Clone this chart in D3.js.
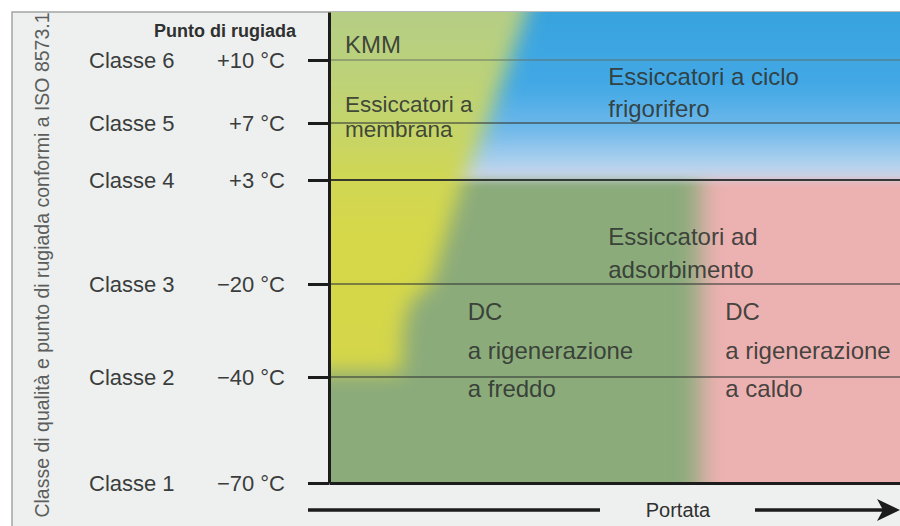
<!DOCTYPE html>
<html><head><meta charset="utf-8">
<script src="https://cdn.jsdelivr.net/npm/d3@7"></script>
<style>html,body{margin:0;padding:0;background:#fff;overflow:hidden}</style>
</head><body><svg id="c" width="900" height="526"></svg>
<script>
// ---------- data ----------
const classNames = ["Classe 1","Classe 2","Classe 3","Classe 4","Classe 5","Classe 6"];
const classLevels = [1,2,3,4,5,6];
const dewPoints = ["\u221270 \u00b0C","\u221240 \u00b0C","\u221220 \u00b0C","+3 \u00b0C","+7 \u00b0C","+10 \u00b0C"];
const yTitle = "Classe di qualità e punto di rugiada conformi a ISO 8573.1";
const dewTitle = "Punto di rugiada";
const xTitle = "Portata";
// region boundaries: [portata (% of axis), class level]
const membraneEdge = [[36,7.3],[34.7,6.76],[31.7,6],[27.7,5],[23.5,4],[21.2,3.6],[18,3],[14.2,2.8],[13,2.5],[12.8,2.05]];
const refrigeratedBottom = 4;
const hotColdEdge = 65;
const regionLabels = [
  {lines:["KMM"], px:2.8, cl:6.11, gap:0},
  {lines:["Essiccatori a","membrana"], px:2.8, cl:5.17, gap:25},
  {lines:["Essiccatori a ciclo","frigorifero"], px:48.9, cl:5.6, gap:32},
  {lines:["Essiccatori ad","adsorbimento"], px:48.9, cl:3.375, gap:33},
  {lines:["DC","a rigenerazione","a freddo"], px:24.3, cl:2.61, gap:38.5},
  {lines:["DC","a rigenerazione","a caldo"], px:69.4, cl:2.61, gap:38.5}
];

// ---------- layout ----------
const svg = d3.select("#c");
const x = d3.scaleLinear().domain([0,100]).range([329,900]);
const y = d3.scaleLinear().domain([1,2,3,4,5,6,6.76]).range([483,377,284,180,123,60,12]);
const FONT = "'Liberation Sans', Arial, Helvetica, sans-serif";

// panel background
svg.append("rect").attr("x",12).attr("y",12).attr("width",900).attr("height",530)
  .attr("fill","#eef0ef").attr("stroke","#a3a5a4").attr("stroke-width",1.5);

const defs = svg.append("defs");
defs.append("clipPath").attr("id","plotClip").append("rect")
  .attr("x",x(0)).attr("y",y(6.76)).attr("width",x(100)-x(0)).attr("height",y(1)-y(6.76));
function blur(id, s){
  defs.append("filter").attr("id",id).attr("filterUnits","userSpaceOnUse")
    .attr("x",-200).attr("y",-200).attr("width",1400).attr("height",1000)
    .append("feGaussianBlur").attr("in","SourceGraphic").attr("stdDeviation",s);
}
blur("b1",12); blur("b2",4); blur("b3",10);

const gBlue = defs.append("linearGradient").attr("id","gBlue").attr("gradientUnits","userSpaceOnUse")
  .attr("x1",0).attr("x2",0).attr("y1",y(6.76)).attr("y2",y(4));
[[0,"#37a3df"],[0.45,"#44a9e5"],[0.7,"#70b9ea"],[0.88,"#a8cfee"],[1,"#d2d6e6"]]
  .forEach(s=>gBlue.append("stop").attr("offset",s[0]).attr("stop-color",s[1]));
const gLeft = defs.append("linearGradient").attr("id","gLeft").attr("gradientUnits","userSpaceOnUse")
  .attr("x1",0).attr("x2",0).attr("y1",y(6.76)).attr("y2",y(2));
[[0,"#b5ce84"],[0.12,"#b9d07d"],[0.3,"#c4d46c"],[0.45,"#d0d754"],[0.6,"#d6d84a"],[1,"#d4d649"]]
  .forEach(s=>gLeft.append("stop").attr("offset",s[0]).attr("stop-color",s[1]));

const line = d3.line().x(d=>x(d[0])).y(d=>y(d[1]));
const plot = svg.append("g").attr("clip-path","url(#plotClip)");
plot.append("rect").attr("x",x(-20)).attr("y",y(7.5)).attr("width",x(120)-x(-20)).attr("height",y(0)-y(7.5))
  .attr("fill","#8bab7b");
plot.append("g").attr("filter","url(#b1)")
  .append("path").attr("d",line([[hotColdEdge,7.3],[hotColdEdge,0],[120,0],[120,7.3]])+"Z")
  .attr("fill","#ecb1b1");
plot.append("g").attr("filter","url(#b2)")
  .append("path").attr("d",line([[-10,7.3],[-10,refrigeratedBottom],[120,refrigeratedBottom],[120,7.3]])+"Z")
  .attr("fill","url(#gBlue)");
plot.append("g").attr("filter","url(#b3)")
  .append("path").attr("d",line(membraneEdge.concat([[-20,2.05],[-20,7.3]]))+"Z")
  .attr("fill","url(#gLeft)");

// grid lines
plot.selectAll("line.grid").data(classLevels.slice(1)).join("line").attr("class","grid")
  .attr("x1",x(0)).attr("x2",x(100)).attr("y1",d=>y(d)).attr("y2",d=>y(d))
  .attr("stroke",d=>d===4?"#262a28":(d===6?"#5d6b60":"#363b38"))
  .attr("stroke-width",d=>d===4?2.2:(d===6?1.3:1.6))
  .attr("stroke-opacity",d=>d===4?0.9:(d===6?0.6:0.75));

// region labels
regionLabels.forEach(l=>{
  const t = svg.append("text").attr("x",x(l.px)).attr("y",y(l.cl))
    .attr("font-family",FONT).attr("font-size",l.gap===25?22.5:24).attr("fill","#2f3430").attr("fill-opacity",0.9);
  l.lines.forEach((s,i)=>t.append("tspan").attr("x",x(l.px)).attr("dy",i===0?0:l.gap).text(s));
});

// axes
const ay = svg.append("g").attr("transform",`translate(${x(0)},0)`)
  .call(d3.axisLeft(y).tickValues(classLevels).tickSize(21).tickSizeOuter(0).tickFormat(""));
ay.select(".domain").attr("stroke","#1c1c1c").attr("stroke-width",3);
ay.selectAll(".tick line").attr("stroke","#1c1c1c").attr("stroke-width",3);
const ax = svg.append("g").attr("transform",`translate(0,${y(1)})`)
  .call(d3.axisBottom(x).tickValues([]).tickSizeOuter(0));
ax.select(".domain").attr("stroke","#1c1c1c").attr("stroke-width",3);

// class labels
svg.selectAll("text.cls").data(classLevels).join("text").attr("class","cls")
  .attr("x",89).attr("y",d=>y(d)).attr("dy","0.36em")
  .attr("font-family",FONT).attr("font-size",22).attr("fill","#3a3d3c")
  .text((d,i)=>classNames[i]);
svg.selectAll("text.dew").data(classLevels).join("text").attr("class","dew")
  .attr("x",285).attr("y",d=>y(d)).attr("dy","0.36em").attr("text-anchor","end")
  .attr("font-family",FONT).attr("font-size",22).attr("fill","#3a3d3c")
  .text((d,i)=>dewPoints[i]);
svg.append("text").attr("x",296).attr("y",37).attr("text-anchor","end")
  .attr("font-family",FONT).attr("font-size",18).attr("font-weight","bold").attr("fill","#2e3130")
  .text(dewTitle);
svg.append("text").attr("transform","translate(42,265) rotate(-90)")
  .attr("text-anchor","middle").attr("dy","0.35em")
  .attr("font-family",FONT).attr("font-size",19.5).attr("fill","#5b5e5d")
  .text(yTitle);

// flow arrow
const ay2 = 510;
svg.append("line").attr("x1",308).attr("x2",600).attr("y1",ay2).attr("y2",ay2)
  .attr("stroke","#1c1c1c").attr("stroke-width",3.5);
svg.append("line").attr("x1",755).attr("x2",884).attr("y1",ay2).attr("y2",ay2)
  .attr("stroke","#1c1c1c").attr("stroke-width",3.5);
svg.append("path").attr("d",`M877,${ay2-11}L900,${ay2}L877,${ay2+11}L883,${ay2}Z`).attr("fill","#1c1c1c");
svg.append("text").attr("x",678).attr("y",ay2).attr("dy","0.36em").attr("text-anchor","middle")
  .attr("font-family",FONT).attr("font-size",20).attr("fill","#2e3130").text(xTitle);
</script></body></html>
